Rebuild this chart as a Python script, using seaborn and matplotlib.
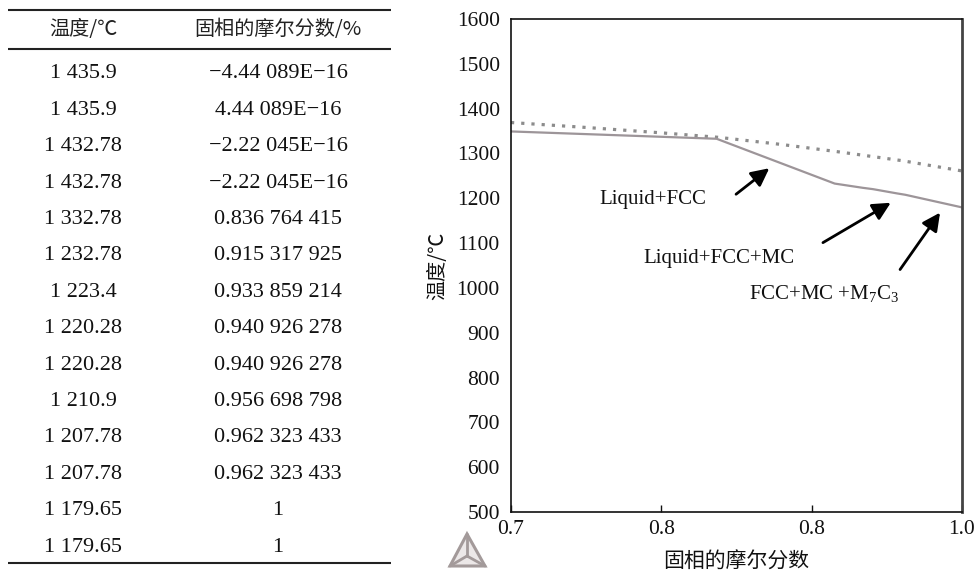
import matplotlib
matplotlib.use("Agg")
import matplotlib.pyplot as plt
import seaborn as sns
import pandas as pd
import numpy as np

# ---------------- data ----------------
temp_labels = ["1 435.9", "1 435.9", "1 432.78", "1 432.78", "1 332.78", "1 232.78",
               "1 223.4", "1 220.28", "1 220.28", "1 210.9", "1 207.78", "1 207.78",
               "1 179.65", "1 179.65"]
frac_labels = ["\u22124.44 089E\u221216", "4.44 089E\u221216", "\u22122.22 045E\u221216",
               "\u22122.22 045E\u221216", "0.836 764 415", "0.915 317 925", "0.933 859 214",
               "0.940 926 278", "0.940 926 278", "0.956 698 798", "0.962 323 433",
               "0.962 323 433", "1", "1"]
temperature = [1435.9, 1435.9, 1432.78, 1432.78, 1332.78, 1232.78, 1223.4, 1220.28,
               1220.28, 1210.9, 1207.78, 1207.78, 1179.65, 1179.65]
solid_fraction = [-4.44089e-16, 4.44089e-16, -2.22045e-16, -2.22045e-16, 0.836764415,
                  0.915317925, 0.933859214, 0.940926278, 0.940926278, 0.956698798,
                  0.962323433, 0.962323433, 1.0, 1.0]
# dotted (equilibrium) curve
eq_fraction = [0.70, 0.75, 0.80, 0.838, 0.88, 0.917, 0.96, 1.00]
eq_temperature = [1369, 1358, 1346, 1336, 1320, 1304, 1284, 1261]

x_ticks = [0.7, 0.8, 0.9, 1.0]
x_tick_labels = ["0.7", "0.8", "0.8", "1.0"]
y_ticks = list(range(500, 1700, 100))

header = ["温度/℃", "固相的摩尔分数/%"]
annotations = ["Liquid+FCC", "Liquid+FCC+MC", "FCC+MC +M$_7$C$_3$"]

# ---------------- style ----------------
sns.set_theme(style="ticks")
serif = ["Liberation Serif", "Noto Sans CJK SC", "DejaVu Sans"]
plt.rcParams["font.family"] = serif
plt.rcParams["mathtext.fontset"] = "custom"
plt.rcParams["mathtext.rm"] = "Liberation Serif"
plt.rcParams["mathtext.it"] = "Liberation Serif"
plt.rcParams["axes.unicode_minus"] = True

W, H = 978, 571
fig = plt.figure(figsize=(W / 100, H / 100), dpi=100)

# overlay axes in pixel coordinates for table and logo
ov = fig.add_axes([0, 0, 1, 1])
ov.set_xlim(0, W)
ov.set_ylim(H, 0)
ov.axis("off")

# table
for yy, lw in [(10, 1.5), (49, 1.5), (563, 1.5)]:
    ov.plot([8, 391], [yy, yy], color="#222222", lw=lw, solid_capstyle="butt")
col_x = [83, 278]
ov.text(col_x[0], 30, header[0], ha="center", va="center", fontsize=14.5,
        family=["Noto Sans CJK SC", "DejaVu Sans"], color="#222222")
ov.text(col_x[1], 30, header[1], ha="center", va="center", fontsize=14.5,
        family=["Noto Sans CJK SC", "DejaVu Sans"], color="#222222")
for i, (t, f) in enumerate(zip(temp_labels, frac_labels)):
    yy = 74 + i * 36.4
    ov.text(col_x[0], yy, t, ha="center", va="center", fontsize=16, color="#111111")
    ov.text(col_x[1], yy, f, ha="center", va="center", fontsize=16, color="#111111")

# logo (triangle)
lc = "#a39a9a"
A, B, C, O = (467, 534), (450, 566), (485, 566), (467, 556)
ov.fill([A[0], B[0], C[0]], [A[1], B[1], C[1]], facecolor="#ece8e8", edgecolor=lc, lw=2.2)
for P in (A, B, C):
    ov.plot([O[0], P[0]], [O[1], P[1]], color=lc, lw=2)

# ---------------- chart ----------------
ax = fig.add_axes([511 / W, 1 - 512 / H, 451 / W, 493 / H])
df = pd.DataFrame({"x": solid_fraction, "T": temperature})
dfe = pd.DataFrame({"x": eq_fraction, "T": eq_temperature})
sns.lineplot(data=dfe, x="x", y="T", ax=ax, sort=False, estimator=None,
             color="#8c8c8c", lw=2.3, linestyle=(0, (1, 2.2)))
sns.lineplot(data=df, x="x", y="T", ax=ax, sort=False, estimator=None,
             color="#9d9599", lw=1.6)

ax.set_xlim(0.7, 1.0)
ax.set_ylim(500, 1600)
ax.set_xticks(x_ticks)
ax.set_xticklabels(x_tick_labels)
ax.set_yticks(y_ticks)
ax.tick_params(axis="x", direction="in", length=5, width=1, labelsize=15.5, pad=6, colors="#111111")
ax.tick_params(axis="y", direction="in", length=0, labelsize=15.5, pad=8, colors="#111111")
ax.set_xlabel("固相的摩尔分数", fontsize=15, family=["Noto Sans CJK SC", "DejaVu Sans"],
              labelpad=8, color="#111111")
ax.set_ylabel("温度/℃", fontsize=14.5, family=["Noto Sans CJK SC", "DejaVu Sans"],
              labelpad=6, color="#111111")
for s in ["left", "bottom", "top"]:
    ax.spines[s].set_color("#111111")
    ax.spines[s].set_linewidth(1.2)
ax.spines["right"].set_color("#444444")
ax.spines["right"].set_linewidth(2)

arrowprops = dict(arrowstyle="-|>,head_length=0.9,head_width=0.45", color="black", lw=2,
                  shrinkA=0, shrinkB=0)
ax.annotate("", xy=(0.8718, 1267), xytext=(0.8497, 1209), arrowprops=arrowprops)
ax.annotate("", xy=(0.9526, 1190), xytext=(0.9075, 1101), arrowprops=arrowprops)
ax.annotate("", xy=(0.9854, 1168), xytext=(0.9588, 1041), arrowprops=arrowprops)
ax.text(0.7945, 1198, annotations[0], ha="center", va="center", fontsize=15, color="#111111")
ax.text(0.8384, 1066, annotations[1], ha="center", va="center", fontsize=15, color="#111111")
ax.text(0.9082, 988, annotations[2], ha="center", va="center", fontsize=15, color="#111111")

fig.savefig("out.png", dpi=100)
